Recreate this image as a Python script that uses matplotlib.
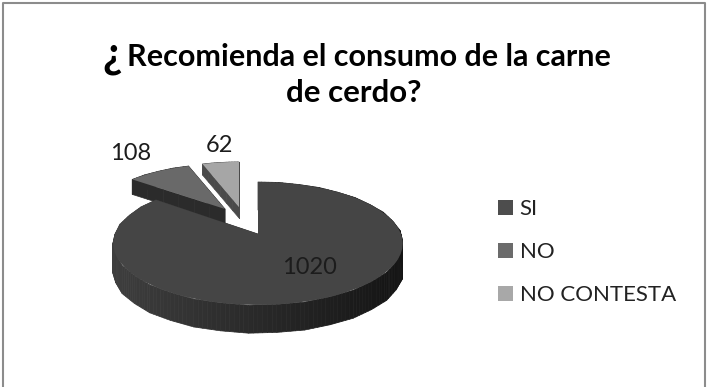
import numpy as np
import matplotlib
matplotlib.use("Agg")
import matplotlib.pyplot as plt
from matplotlib.collections import PolyCollection
from matplotlib.colors import to_rgb
from matplotlib.transforms import Transform

# Data
categories = ["SI", "NO", "NO CONTESTA"]
values = [1020, 108, 62]
title_mark = "¿"
title_lines = ["Recomienda el consumo de la carne", "de cerdo?"]

# Slice look (in the same order as the categories)
top_colors = ["#454545", "#696969", "#a6a6a6"]
legend_colors = ["#4d4d4d", "#6b6b6b", "#a8a8a8"]
wall_left = ["#3e3e3e", "#2b2b2b", "#4a4a4a"]
wall_right = ["#141414", "#2b2b2b", "#4a4a4a"]
apex_px = [(258, 234), (225, 209), (239, 207)]
radius_px = [(143, 60), (130, 52), (130, 52)]
depth_px = [28, 15, 11]
label_px = [(309, 268), (131, 154), (219, 145)]
draw_order = [1, 2, 0]


class Tilt(Transform):
    # Lays a unit pie slice on the table, far side smaller than the near side
    input_dims = 2
    output_dims = 2

    def __init__(self, apex, radius, k=0.154):
        super().__init__()
        self.apex = apex
        self.radius = radius
        self.k = k

    def transform_non_affine(self, xy):
        xy = np.asarray(xy, dtype=float)
        w = 1 + self.k * xy[:, 1]
        px = self.apex[0] + self.radius[0] * xy[:, 0] / w
        py = self.apex[1] - self.radius[1] * xy[:, 1] / w
        return np.column_stack([px, py])


def main():
    plt.rcParams["font.family"] = ["Lato", "DejaVu Sans"]

    fig = plt.figure(figsize=(7.08, 3.87), dpi=100)
    ax = fig.add_axes([0, 0, 1, 1])

    wedges, _ = ax.pie(values, colors=top_colors, startangle=90, counterclock=False, frame=True)

    ax.set_aspect("auto")
    ax.set_xlim(0, 708)
    ax.set_ylim(387, 0)
    ax.axis("off")

    # Walls first, then the top face of each slice
    for z, i in enumerate(draw_order):
        tilt = Tilt(apex_px[i], radius_px[i])
        wedge = wedges[i]
        wedge.set_transform(tilt + ax.transData)
        wedge.set_edgecolor("none")
        wedge.set_zorder(z * 2 + 2)

        ring = tilt.transform(wedge.get_path().to_polygons()[0])
        quads, shades = [], []
        left = np.array(to_rgb(wall_left[i]))
        right = np.array(to_rgb(wall_right[i]))
        drop = np.array([0, depth_px[i]])
        for p, q in zip(ring[:-1], ring[1:]):
            # split each edge so the shading runs smoothly along the wall
            steps = np.linspace(0, 1, 7)
            for s0, s1 in zip(steps[:-1], steps[1:]):
                a = p + (q - p) * s0
                b = p + (q - p) * s1
                quads.append([a, b, b + drop, a + drop])
                t = (0.5 * (a[0] + b[0]) - ring[:, 0].min()) / np.ptp(ring[:, 0])
                shades.append(left + (right - left) * t)
        ax.add_collection(PolyCollection(quads, facecolors=shades, edgecolors=shades,
                                         linewidths=0.5, zorder=z * 2 + 1), autolim=False)

    # Data labels
    for value, (x, y) in zip(values, label_px):
        ax.text(x, y, str(value), fontsize=17, color="#1c1c1c", ha="center", va="center", zorder=10)

    # Title
    ax.text(112, 55, title_mark, fontsize=31, fontweight="bold", color="black",
            ha="center", va="center")
    ax.text(369, 57, title_lines[0], fontsize=22, fontweight="bold", color="black",
            ha="center", va="center")
    ax.text(354, 93, title_lines[1], fontsize=22.5, fontweight="bold", color="black",
            ha="center", va="center")

    # Legend
    leg = ax.legend(wedges, categories, loc="upper left", bbox_to_anchor=(0.703, 0.486),
                    frameon=False, fontsize=16, labelcolor="#222222", handlelength=0.67,
                    handleheight=0.67, handletextpad=0.32, labelspacing=1.04,
                    borderpad=0, borderaxespad=0)
    for handle, color in zip(leg.legend_handles, legend_colors):
        handle.set_facecolor(color)

    # Grey frame of the chart area
    ax.plot([3, 3, 705, 705], [387, 2.5, 2.5, 387], color="#8c8c8c", lw=1.5, zorder=20)

    fig.savefig("out.png", dpi=100)


if __name__ == "__main__":
    main()
